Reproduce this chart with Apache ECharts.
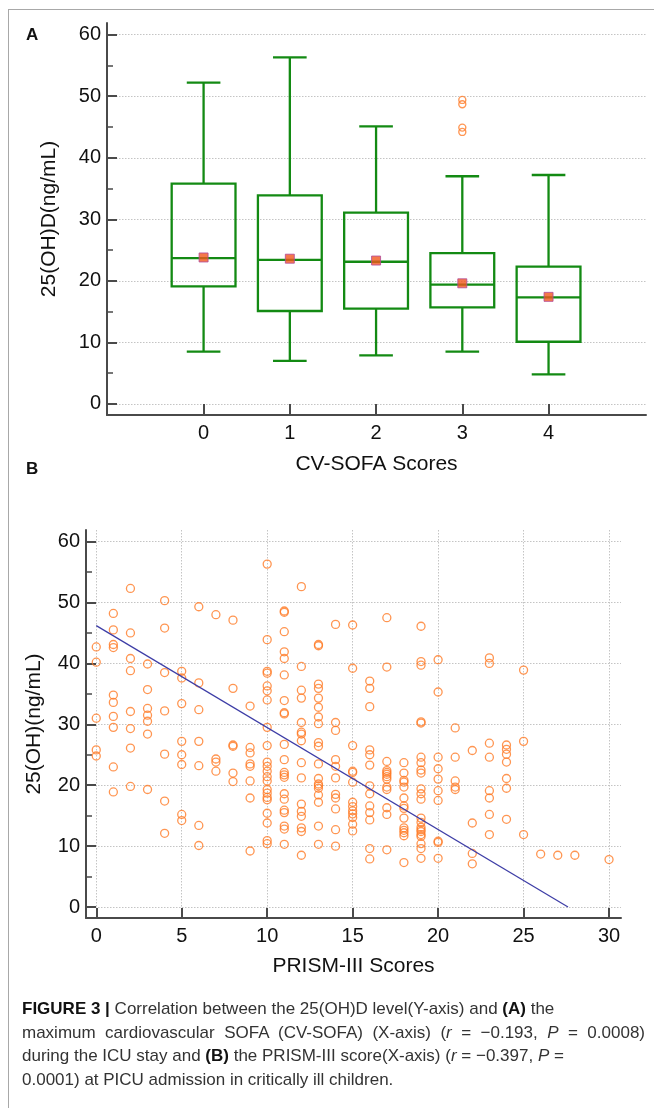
<!DOCTYPE html>
<html>
<head>
<meta charset="utf-8">
<script src="https://cdn.jsdelivr.net/npm/echarts@6/dist/echarts.min.js"></script>
<style>
  html, body { margin: 0; padding: 0; background: #fff; }
  #wrap { position: relative; width: 654px; height: 1112px; overflow: hidden; }
  #main { position: absolute; left: 0; top: 0; width: 654px; height: 1112px; }
  #frame { position: absolute; left: 8px; top: 9px; width: 660px; height: 1098px;
           border-left: 1px solid #a8a8a8; border-top: 1px solid #a8a8a8; }
  #cap { position: absolute; left: 22px; top: 997px; width: 623px; white-space: nowrap;
         font-family: 'Liberation Sans', Arial, sans-serif; font-size: 17px;
         line-height: 23.5px; color: #333; }
  #cap b { color: #111; }
  #cap .jl { text-align: justify; text-align-last: justify; }
</style>
</head>
<body>
<div id="wrap">
  <div id="main"></div>
  <div id="frame"></div>
  <div id="cap">
    <div><b>FIGURE 3 |</b> Correlation between the 25(OH)D level(Y-axis) and <b>(A)</b> the</div>
    <div class="jl">maximum cardiovascular SOFA (CV-SOFA) (X-axis) (<i>r</i> = &minus;0.193, <i>P</i> = 0.0008)</div>
    <div>during the ICU stay and <b>(B)</b> the PRISM-III score(X-axis) (<i>r</i> = &minus;0.397, <i>P</i> =</div>
    <div>0.0001) at PICU admission in critically ill children.</div>
  </div>
</div>
<script>
// ---- panel A : CV-SOFA box plots ----
var sofaCats = ['0', '1', '2', '3', '4'];
var boxLow = [8.5, 7.0, 7.9, 8.5, 4.8];
var boxQ1 = [19.1, 15.1, 15.5, 15.7, 10.1];
var boxMedian = [23.7, 23.4, 23.1, 19.4, 17.3];
var boxQ3 = [35.8, 33.9, 31.1, 24.5, 22.3];
var boxHigh = [52.2, 56.3, 45.1, 37.0, 37.2];
var boxMean = [23.8, 23.6, 23.3, 19.6, 17.4];
var outlierCat = [3, 3, 3, 3];
var outlierVal = [49.4, 48.7, 44.9, 44.2];

// ---- panel B : PRISM-III scatter ----
var prismScore = [0, 1, 2, 3, 4, 5, 6, 7, 8, 9, 10, 11, 12, 13, 14, 15, 16, 17, 18, 19, 20, 21, 22, 23, 24, 25, 26, 27, 28, 30];
var prismVitD = [
  [42.7, 40.2, 31.0, 25.8, 24.8],
  [48.2, 45.5, 43.1, 42.6, 34.8, 33.6, 31.3, 29.5, 23.0, 18.9],
  [52.3, 45.0, 40.8, 38.8, 32.1, 29.3, 26.1, 19.8],
  [39.9, 35.7, 32.6, 31.5, 30.5, 28.4, 19.3],
  [50.3, 45.8, 38.5, 32.2, 25.1, 17.4, 12.1],
  [38.7, 37.6, 33.4, 27.2, 25.0, 23.4, 15.2, 14.2],
  [49.3, 36.8, 32.4, 27.2, 23.2, 13.4, 10.1],
  [48.0, 24.3, 23.8, 22.3],
  [47.1, 35.9, 26.6, 26.4, 22.0, 20.6],
  [33.0, 26.2, 25.3, 23.5, 23.1, 20.7, 17.9, 9.2],
  [56.3, 43.9, 38.7, 38.4, 36.3, 35.5, 34.0, 29.5, 26.5, 23.8, 23.1, 22.3, 21.4, 20.7, 19.3, 18.7, 18.0, 17.6, 15.4, 13.8, 10.9, 10.4],
  [48.6, 48.4, 45.2, 41.9, 40.8, 38.1, 33.9, 31.9, 31.7, 26.7, 24.2, 22.1, 21.7, 21.3, 18.6, 17.7, 15.9, 15.5, 13.3, 12.8, 10.3],
  [52.6, 39.5, 35.6, 34.3, 30.3, 28.7, 28.4, 27.3, 23.7, 21.2, 16.9, 15.7, 14.9, 13.0, 12.4, 8.5],
  [43.1, 42.9, 36.6, 35.9, 34.3, 32.8, 31.2, 30.1, 27.0, 26.4, 23.5, 21.1, 20.2, 19.9, 19.5, 18.4, 17.2, 13.3, 10.3],
  [46.4, 30.3, 29.0, 24.2, 23.1, 21.2, 18.5, 17.9, 16.1, 12.7, 10.0],
  [46.3, 39.2, 26.5, 22.3, 22.1, 20.5, 17.2, 16.5, 15.8, 15.3, 14.7, 13.6, 12.5],
  [37.1, 35.9, 32.9, 25.8, 25.0, 23.3, 19.9, 18.6, 16.6, 15.5, 14.3, 9.6, 7.9],
  [47.5, 39.4, 23.9, 22.4, 22.1, 21.8, 21.4, 21.0, 19.7, 19.3, 16.3, 15.2, 9.4],
  [23.7, 22.0, 20.8, 20.5, 19.7, 17.9, 16.6, 16.2, 14.6, 13.0, 12.6, 12.2, 11.7, 7.3],
  [46.1, 40.3, 39.7, 30.4, 30.2, 24.6, 23.7, 22.5, 22.0, 19.4, 18.6, 17.7, 14.6, 13.9, 13.1, 12.7, 12.4, 11.9, 11.6, 10.4, 9.6, 8.0],
  [40.6, 35.3, 24.6, 22.7, 21.0, 19.1, 17.5, 10.8, 10.6, 8.0],
  [29.4, 24.6, 20.7, 19.7, 19.3],
  [25.7, 13.8, 8.8, 7.1],
  [40.9, 40.0, 26.9, 24.6, 19.1, 17.9, 15.2, 11.9],
  [26.6, 25.9, 25.1, 23.8, 21.1, 19.5, 14.4],
  [38.9, 27.2, 11.9],
  [8.7],
  [8.5],
  [8.5],
  [7.8]
];
// fitted regression line end points (x, y)
var fitX = [0, 27.6];
var fitY = [46.2, 0];

var yMajor = [0, 10, 20, 30, 40, 50, 60];
var yMinor = [5, 15, 25, 35, 45, 55];
var prismTicks = [0, 5, 10, 15, 20, 25, 30];

var boxData = sofaCats.map(function (c, i) {
  return [i, boxLow[i], boxQ1[i], boxMedian[i], boxQ3[i], boxHigh[i]];
});
var meanData = boxMean.map(function (v, i) { return [i, v]; });
var outlierData = outlierVal.map(function (v, i) { return [outlierCat[i], v]; });
var scatterData = [];
prismScore.forEach(function (s, i) {
  prismVitD[i].forEach(function (v) { scatterData.push([s, v]); });
});
var fitData = fitX.map(function (x, i) { return [x, fitY[i]]; });

var fontName = 'Liberation Sans';
var axisCol = '#4a4a4a';
var gridLine = { show: true, lineStyle: { color: '#c4c4c4', type: [1.5, 1.5], width: 1 } };

function mainY(gridIndex, name, gap) {
  return {
    gridIndex: gridIndex, type: 'value', min: -1.8, max: 61.9,
    name: name, nameLocation: 'middle', nameGap: gap, nameRotate: 90,
    nameTextStyle: { fontFamily: fontName, fontSize: 21, color: '#111' },
    axisLine: { show: true, onZero: false, lineStyle: { color: axisCol, width: 2 } },
    axisTick: { show: true, inside: true, length: 10, customValues: yMajor, lineStyle: { color: axisCol, width: 2 } },
    axisLabel: { customValues: yMajor, margin: 6, fontFamily: fontName, fontSize: 20, color: '#111' },
    splitLine: gridLine
  };
}
function minorY(gridIndex) {
  return {
    gridIndex: gridIndex, type: 'value', min: -1.8, max: 61.9, position: 'left', offset: 0,
    axisLine: { show: false, onZero: false },
    axisTick: { show: true, inside: true, length: 6, customValues: yMinor, lineStyle: { color: axisCol, width: 1.5 } },
    axisLabel: { show: false },
    splitLine: { show: false }
  };
}

function renderBox(params, api) {
  var x = api.value(0);
  var lo = api.coord([x, api.value(1)]);
  var q1 = api.coord([x, api.value(2)]);
  var md = api.coord([x, api.value(3)]);
  var q3 = api.coord([x, api.value(4)]);
  var hi = api.coord([x, api.value(5)]);
  var bw = api.size([0.74, 0])[0] / 2;
  var cw = api.size([0.39, 0])[0] / 2;
  var st = { stroke: '#138a13', lineWidth: 2.3, fill: null };
  var cx = md[0];
  return {
    type: 'group',
    children: [
      { type: 'line', shape: { x1: cx, y1: hi[1], x2: cx, y2: q3[1] }, style: st },
      { type: 'line', shape: { x1: cx, y1: lo[1], x2: cx, y2: q1[1] }, style: st },
      { type: 'line', shape: { x1: cx - cw, y1: hi[1], x2: cx + cw, y2: hi[1] }, style: st },
      { type: 'line', shape: { x1: cx - cw, y1: lo[1], x2: cx + cw, y2: lo[1] }, style: st },
      { type: 'rect', shape: { x: cx - bw, y: q3[1], width: bw * 2, height: q1[1] - q3[1] }, style: st },
      { type: 'line', shape: { x1: cx - bw, y1: md[1], x2: cx + bw, y2: md[1] }, style: st }
    ]
  };
}

var chart = echarts.init(document.getElementById('main'));
chart.setOption({
  animation: false,
  backgroundColor: 'transparent',
  title: [
    { text: 'A', left: 21, top: 22, textStyle: { fontFamily: fontName, fontSize: 17, fontWeight: 'bold', color: '#111' } },
    { text: 'B', left: 21, top: 456, textStyle: { fontFamily: fontName, fontSize: 17, fontWeight: 'bold', color: '#111' } }
  ],
  grid: [
    { left: 107, right: 8, top: 23, height: 392 },
    { left: 86, right: 33, top: 530, height: 388 }
  ],
  xAxis: [
    {
      gridIndex: 0, type: 'value', min: -1.12, max: 5.13,
      name: 'CV-SOFA Scores', nameLocation: 'middle', nameGap: 39,
      nameTextStyle: { fontFamily: fontName, fontSize: 21, color: '#111' },
      axisLine: { show: true, onZero: false, lineStyle: { color: axisCol, width: 2 } },
      axisTick: { show: true, inside: true, length: 11, customValues: [0, 1, 2, 3, 4], lineStyle: { color: axisCol, width: 2 } },
      axisLabel: { customValues: [0, 1, 2, 3, 4], margin: 8, fontFamily: fontName, fontSize: 20, color: '#111',
                   formatter: function (v) { return sofaCats[Math.round(v)]; } },
      splitLine: { show: false }
    },
    {
      gridIndex: 1, type: 'value', min: -0.6, max: 30.7,
      name: 'PRISM-III Scores', nameLocation: 'middle', nameGap: 38,
      nameTextStyle: { fontFamily: fontName, fontSize: 21, color: '#111' },
      axisLine: { show: true, onZero: false, lineStyle: { color: axisCol, width: 2 } },
      axisTick: { show: true, inside: true, length: 10, customValues: prismTicks, lineStyle: { color: axisCol, width: 2 } },
      axisLabel: { customValues: prismTicks, margin: 8, fontFamily: fontName, fontSize: 20, color: '#111' },
      splitLine: gridLine
    }
  ],
  yAxis: [
    mainY(0, '25(OH)D(ng/mL)', 47),
    minorY(0),
    mainY(1, '25(OH)(ng/mL)', 41),
    minorY(1)
  ],
  series: [
    {
      type: 'custom', xAxisIndex: 0, yAxisIndex: 0, renderItem: renderBox,
      data: boxData, encode: { x: 0, y: [1, 2, 3, 4, 5] }, z: 3
    },
    {
      type: 'scatter', xAxisIndex: 0, yAxisIndex: 0, data: meanData, symbol: 'rect', symbolSize: 9, z: 5,
      itemStyle: { color: '#f2561d', borderColor: '#b04a9a', borderWidth: 1 }
    },
    {
      type: 'scatter', xAxisIndex: 0, yAxisIndex: 0, data: outlierData, symbol: 'circle', symbolSize: 7, z: 4,
      itemStyle: { color: 'rgba(255,255,255,0)', borderColor: '#ff7d2a', borderWidth: 1.4 }
    },
    {
      type: 'scatter', xAxisIndex: 1, yAxisIndex: 2, data: scatterData, symbol: 'circle', symbolSize: 8, z: 3,
      itemStyle: { color: 'rgba(255,255,255,0)', borderColor: '#ff7a26', borderWidth: 1.3 }
    },
    {
      type: 'line', xAxisIndex: 1, yAxisIndex: 2, data: fitData, showSymbol: false, z: 4,
      lineStyle: { color: '#3d3da6', width: 1.2 }
    }
  ]
});
</script>
</body>
</html>
